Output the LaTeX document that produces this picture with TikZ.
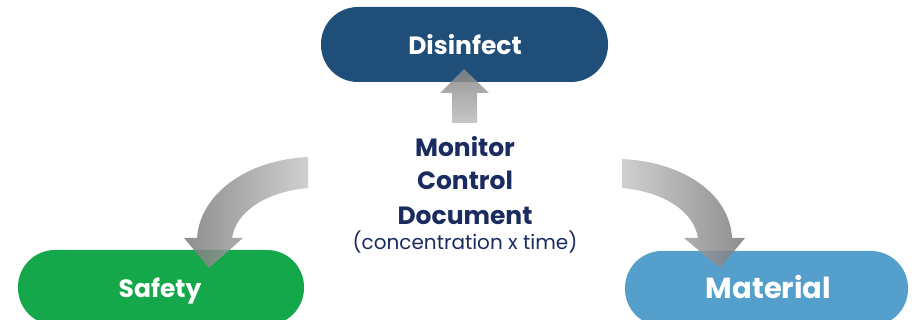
\documentclass[tikz,border=0pt]{standalone}
\usepackage{fontspec}
\setmainfont{Poppins}
\definecolor{dblue}{HTML}{1F4E79}
\definecolor{sgreen}{HTML}{14A84B}
\definecolor{mblue}{HTML}{559FCD}
\definecolor{navy}{HTML}{1A2B5F}
\begin{document}
\begin{tikzpicture}[x=1pt,y=-1pt,
  pill/.style={rounded corners=37pt},
  boxlabel/.style={anchor=base,text=white,font=\fontsize{25}{30}\selectfont\bfseries,inner sep=0pt},
  midlabel/.style={anchor=base,text=navy,font=\fontsize{25}{28}\selectfont\bfseries,inner sep=0pt}]
\useasboundingbox (0,0) rectangle (916,320);
\clip (0,0) rectangle (916,320);
% boxes
\fill[dblue,pill] (321,7) rectangle (608,82);
\fill[sgreen,pill] (18,250) rectangle (304,325);
\fill[mblue,pill] (625,251) rectangle (908,326);
\node[boxlabel] (dis) at (465,55) {Disinfect};
\node[boxlabel] (saf) at (160,298) {Safety};
\node[boxlabel,font=\fontsize{29}{33}\selectfont\bfseries] (mat) at (768.5,299) {Material};
% middle text
\node[midlabel] (mon) at (465,157) {Monitor};
\node[midlabel] (con) at (465,190) {Control};
\node[midlabel] (doc) at (465,225) {Document};
\node[anchor=base,text=navy,font=\fontsize{20}{24}\selectfont,inner sep=0pt] (ct) at (465,250) {(concentration x time)};
% up arrow
\shade[top color=black!48,bottom color=black!26,fill opacity=0.85]
  (464,69) -- (489,93) -- (477,93) -- (477,123) -- (452,123) -- (452,93) -- (440,93) -- cycle;
% left curved arrow
\shade[left color=black!52,right color=black!22,fill opacity=0.85]
  (308,157) .. controls (245,160) and (200,195) .. (197,238)
  -- (184,238) -- (209,268) -- (243,238) -- (232,238)
  .. controls (236,212) and (265,192) .. (308,188) -- cycle;
% right curved arrow
\shade[left color=black!22,right color=black!52,fill opacity=0.85]
  (622,159) .. controls (685,162) and (730,195) .. (732,238)
  -- (745,238) -- (720,268) -- (684,238) -- (698,238)
  .. controls (694,212) and (665,192) .. (622,188) -- cycle;
\end{tikzpicture}
\end{document}
